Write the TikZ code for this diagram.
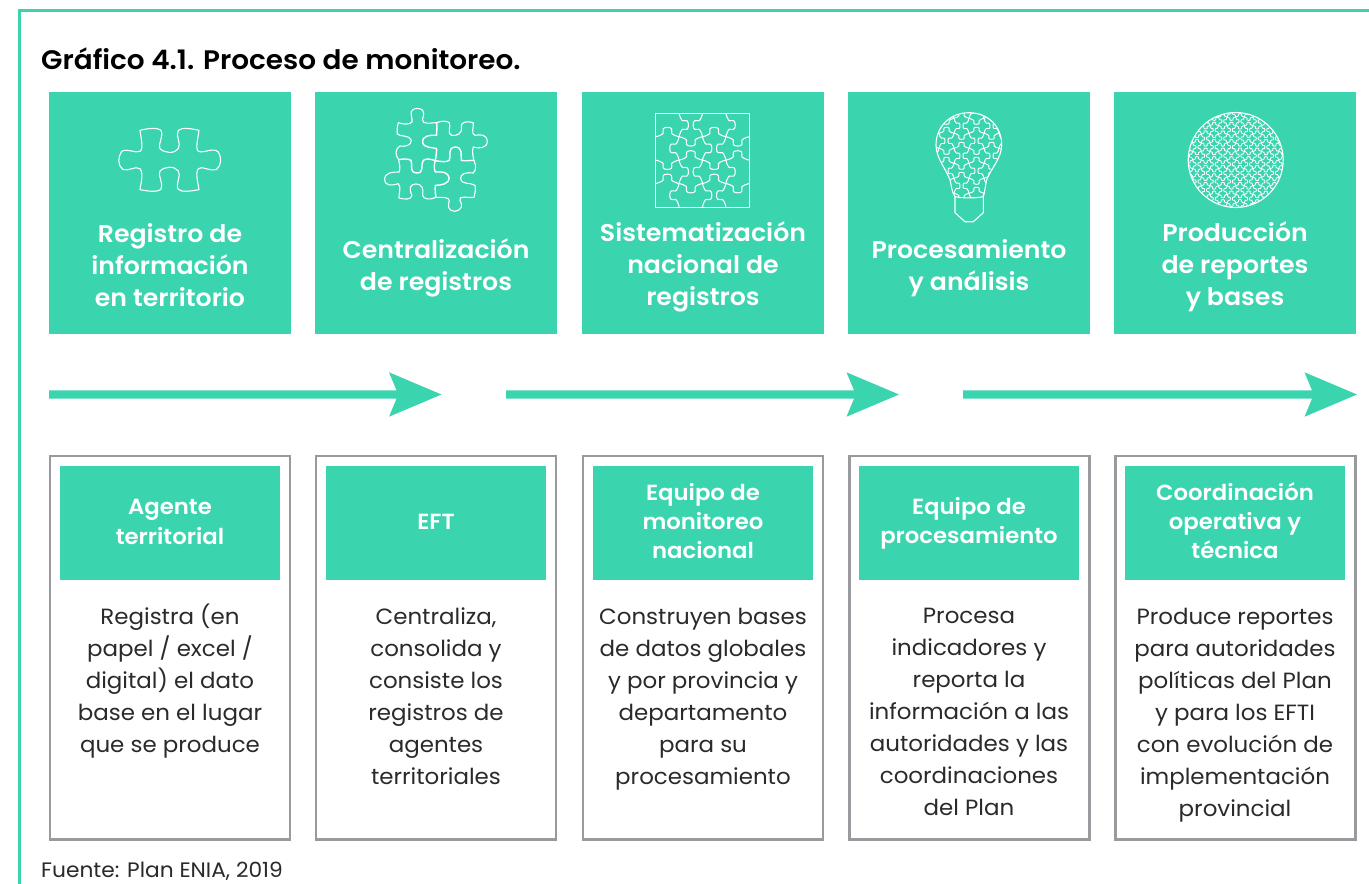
\documentclass[tikz,border=0pt]{standalone}
\usepackage{fontspec}
\setmainfont[FakeStretch=1.04]{Poppins}
\newfontfamily\semib[FakeStretch=1.04]{Poppins SemiBold}
\definecolor{teal1}{HTML}{3AD4AE}
\definecolor{gray1}{HTML}{9A9A9E}
\definecolor{ink}{HTML}{2A2A2A}
\tikzset{
 card/.style={fill=teal1,draw=none,minimum width=242pt,minimum height=242pt,inner sep=0pt,outer sep=0pt,anchor=north west},
 cardtext/.style={text=white,align=center,font=\semib\fontsize{24.25}{32}\selectfont,anchor=center},
 outer/.style={draw=gray1,line width=2.4pt,fill=white,minimum width=240pt,minimum height=383.5pt,inner sep=0pt,outer sep=0pt,anchor=north west},
 head/.style={fill=teal1,minimum width=220pt,minimum height=114pt,inner sep=0pt,outer sep=0pt,anchor=north west,text=white,align=center,font=\semib\fontsize{21.9}{29.2}\selectfont},
 body/.style={text=ink,align=center,inner sep=0pt,font=\fontsize{22.05}{32}\selectfont,anchor=north},
 flow/.style={fill=teal1,draw=none},
 icon/.style={draw=white,line width=.8pt,line join=round},
}
% jigsaw edge in unit coordinates
\newcommand{\jedge}[6]{% x y length angle sign lw
 \draw[icon,line width=#6pt,shift={(#1,#2)},rotate=#4,xscale=#3,yscale=#3*#5]
  (0,0) .. controls (.12,.02) and (.3,.1) .. (.32,.15)
  .. controls (.34,.2) and (.28,.25) .. (.32,.34)
  .. controls (.36,.42) and (.64,.42) .. (.68,.34)
  .. controls (.72,.25) and (.66,.2) .. (.68,.15)
  .. controls (.7,.1) and (.88,.02) .. (1,0);}
\newcommand{\jgrid}[6]{% x0 y0 cell ncol nrow lw
 \pgfmathtruncatemacro{\nc}{#4-1}\pgfmathtruncatemacro{\nr}{#5-1}
 \foreach \i in {1,...,\nc}{\foreach \j in {0,...,\nr}{
   \pgfmathsetmacro{\sg}{ifthenelse(mod(\i+\j,2)==0,1,-1)}
   \pgfmathsetmacro{\xx}{#1+\i*#3}\pgfmathsetmacro{\yy}{#2+\j*#3}
   \jedge{\xx}{\yy}{#3}{-90}{\sg}{#6}
 }}
 \foreach \j in {1,...,\nr}{\foreach \i in {0,...,\nc}{
   \pgfmathsetmacro{\sg}{ifthenelse(mod(\i+\j,2)==0,1,-1)}
   \pgfmathsetmacro{\xx}{#1+\i*#3}\pgfmathsetmacro{\yy}{#2+\j*#3}
   \jedge{\xx}{\yy}{#3}{0}{\sg}{#6}
 }}
}
\newcommand{\bulbpath}{(969,112.7) .. controls (988.3,112.7) and (1001.7,126.7) .. (1001.7,145)
 .. controls (1001.7,158.3) and (990,170) .. (986.7,180) .. controls (985,186.7) and (985,191.7) .. (983.3,196.7)
 .. controls (975,198.3) and (963.3,198.3) .. (955,196.7) .. controls (951.7,191.7) and (951.7,186.7) .. (950,180)
 .. controls (946.7,170) and (936,158.3) .. (936,145) .. controls (936,126.7) and (950,112.7) .. (969,112.7) -- cycle}
\begin{document}
\begin{tikzpicture}[x=1pt,y=-1pt]
\useasboundingbox (0,0) rectangle (1369,884);
\fill[white] (0,0) rectangle (1369,884);
\draw[teal1,line width=2.6pt] (1369,10.3) -- (19.7,10.3) -- (19.7,884);
\node[anchor=west,inner sep=0pt,text=black,font=\semib\fontsize{26.8}{30}\selectfont] (title) at (41,59) {Gráfico 4.1. Proceso de monitoreo.};
% cards
\foreach \n/\x in {a/49,b/315,c/582,d/848,e/1114}{
  \node[card] (card\n) at (\x,92) {};
}
\node[cardtext] (ta) at (170,264.7) {Registro de\\información\\en territorio};
\node[cardtext] (tb) at (436,268) {Centralización\\de registros};
\node[cardtext] (tc) at (703,267) {Sistematización\\nacional de\\registros};
\node[cardtext] (td) at (969,268) {Procesamiento\\y análisis};
\node[cardtext] (te) at (1235,267) {Producción\\de reportes\\y bases};
% arrows
\foreach \s/\b/\t in {49/389/441.5,506/846.5/899,963/1304.5/1357}{
  \fill[flow] (\s,390.3) -- (\b+7.5,390.3) -- (\b,372.3) -- (\t,394.5) -- (\b,416.7) -- (\b+7.5,398.7) -- (\s,398.7) -- cycle;
}
% lower boxes
\foreach \n/\x in {a/49.8,b/316,c/583,d/849.5,e/1115.5}{
  \node[outer] (box\n) at (\x,456) {};
}
\node[head] (ha) at (60,466) {\raisebox{3pt}{Agente}\\\raisebox{2.5pt}{territorial}};
\node[head] (hb) at (326,466) {\raisebox{2pt}{EFT}};
\node[head] (hc) at (593,466) {\raisebox{4.5pt}{Equipo de}\\\raisebox{4.5pt}{monitoreo}\\\raisebox{4.5pt}{nacional}};
\node[head] (hd) at (859,466) {Equipo de\\procesamiento};
\node[head] (he) at (1125,466) {\raisebox{5pt}{Coordinación}\\\raisebox{5pt}{operativa y}\\\raisebox{5pt}{técnica}};
\node[body] (ba) at (170,604) {Registra (en\\papel / excel /\\digital) el dato\\base en el lugar\\que se produce};
\node[body] (bb) at (436,608) {Centraliza,\\consolida y\\consiste los\\registros de\\agentes\\territoriales};
\node[body] (bc) at (703,608) {Construyen bases\\de datos globales\\y por provincia y\\departamento\\para su\\procesamiento};
\node[body] (bd) at (969,608) {Procesa\\indicadores y\\reporta la\\información a las\\autoridades y las\\coordinaciones\\del Plan};
\node[body] (be) at (1235,608) {Produce reportes\\para autoridades\\políticas del Plan\\y para los EFTI\\con evolución de\\implementación\\provincial};
\node[anchor=west,inner sep=0pt,text=ink,font=\fontsize{20.9}{24}\selectfont] (src) at (41,871) {Fuente: Plan ENIA, 2019};
% icon 1
\begin{scope}[shift={(50,92)},x=.3333pt,y=-.3333pt]
\draw[icon,line width=1.1pt] (270,115) .. controls (290,110) and (320,105) .. (333,115)
 .. controls (342,135) and (322,160) .. (330,170) .. controls (345,185) and (375,185) .. (385,170)
 .. controls (395,155) and (375,130) .. (385,115) .. controls (395,105) and (425,110) .. (447,115)
 .. controls (445,135) and (435,170) .. (445,178) .. controls (460,185) and (490,165) .. (505,180)
 .. controls (515,195) and (515,220) .. (500,232) .. controls (480,240) and (455,220) .. (445,230)
 .. controls (435,245) and (445,275) .. (447,293) .. controls (425,297) and (395,302) .. (385,292)
 .. controls (375,277) and (395,250) .. (385,237) .. controls (375,222) and (345,222) .. (330,237)
 .. controls (322,250) and (342,275) .. (333,292) .. controls (320,302) and (290,297) .. (270,293)
 .. controls (272,275) and (282,245) .. (270,230) .. controls (255,220) and (235,240) .. (218,232)
 .. controls (203,220) and (203,195) .. (215,178) .. controls (235,168) and (255,185) .. (270,178)
 .. controls (282,170) and (272,135) .. (270,115) -- cycle;
% icon 2
\draw[icon,line width=1.1pt] (1045,92) .. controls (1060,98) and (1080,98) .. (1086,90)
 .. controls (1090,78) and (1075,60) .. (1090,52) .. controls (1098,48) and (1110,48) .. (1118,55)
 .. controls (1128,68) and (1112,80) .. (1120,90) .. controls (1130,97) and (1148,92) .. (1160,92)
 .. controls (1175,86) and (1190,86) .. (1198,92) .. controls (1204,105) and (1190,125) .. (1205,130)
 .. controls (1220,133) and (1238,125) .. (1234,105) .. controls (1230,92) and (1250,85) .. (1270,92)
 .. controls (1272,105) and (1262,125) .. (1275,130) .. controls (1290,128) and (1310,125) .. (1312,148)
 .. controls (1312,170) and (1285,170) .. (1270,165) .. controls (1265,180) and (1270,195) .. (1272,205)
 .. controls (1278,220) and (1280,232) .. (1270,243) .. controls (1250,240) and (1230,245) .. (1232,260)
 .. controls (1235,280) and (1262,270) .. (1275,280) .. controls (1278,295) and (1275,305) .. (1272,316)
 .. controls (1250,318) and (1225,310) .. (1230,325) .. controls (1240,340) and (1235,355) .. (1215,358)
 .. controls (1195,358) and (1192,340) .. (1198,328) .. controls (1200,315) and (1180,316) .. (1158,316)
 .. controls (1140,325) and (1120,322) .. (1118,310) .. controls (1122,290) and (1115,275) .. (1098,276)
 .. controls (1080,276) and (1076,290) .. (1086,310) .. controls (1085,325) and (1060,322) .. (1047,318)
 .. controls (1046,305) and (1055,285) .. (1045,275) .. controls (1030,280) and (1005,285) .. (1004,262)
 .. controls (1005,240) and (1030,240) .. (1048,240) .. controls (1052,225) and (1048,215) .. (1046,203)
 .. controls (1035,190) and (1035,170) .. (1050,162) .. controls (1065,165) and (1085,160) .. (1084,145)
 .. controls (1080,128) and (1050,135) .. (1042,126) .. controls (1040,115) and (1042,105) .. (1045,92) -- cycle;
\draw[icon,line width=1.4pt] (1160,92) .. controls (1162,105) and (1160,118) .. (1160,130)
 .. controls (1135,128) and (1115,135) .. (1118,150) .. controls (1120,170) and (1150,165) .. (1160,170)
 .. controls (1160,182) and (1158,195) .. (1156,206) .. controls (1170,208) and (1190,212) .. (1198,205)
 .. controls (1205,190) and (1190,170) .. (1215,165) .. controls (1240,165) and (1232,190) .. (1234,205)
 .. controls (1245,208) and (1260,205) .. (1272,205);
\draw[icon,line width=1.4pt] (1046,203) .. controls (1060,200) and (1075,200) .. (1083,205)
 .. controls (1090,220) and (1075,240) .. (1100,243) .. controls (1125,243) and (1110,220) .. (1120,205)
 .. controls (1130,198) and (1145,202) .. (1156,206) .. controls (1152,218) and (1152,230) .. (1156,240)
 .. controls (1175,238) and (1195,240) .. (1198,258) .. controls (1198,275) and (1175,280) .. (1156,280)
 .. controls (1155,295) and (1156,305) .. (1158,316);
\end{scope}
% icon 3
\jgrid{655.7}{113.3}{23.4}{4}{4}{1.05}
\draw[icon,line width=1.1pt] (655.7,113.3) rectangle (749.3,207.3);
% icon 4
\begin{scope}
\clip \bulbpath;
\jgrid{924}{103.3}{15}{6}{7}{.95}
\end{scope}
\draw[icon,line width=1.1pt] \bulbpath;
\draw[icon,line width=1.1pt] (955,196.7) -- (955,212.7) -- (965,221.7) -- (973.3,221.7) -- (983.3,212.7) -- (983.3,196.7);
% icon 5
\begin{scope}
\clip (1235.7,160) circle [radius=47.5];
\jgrid{1184.1}{108.4}{8.6}{12}{12}{.85}
\end{scope}
\draw[icon,line width=1.1pt] (1235.7,160) circle [radius=47.5];
\end{tikzpicture}
\end{document}
